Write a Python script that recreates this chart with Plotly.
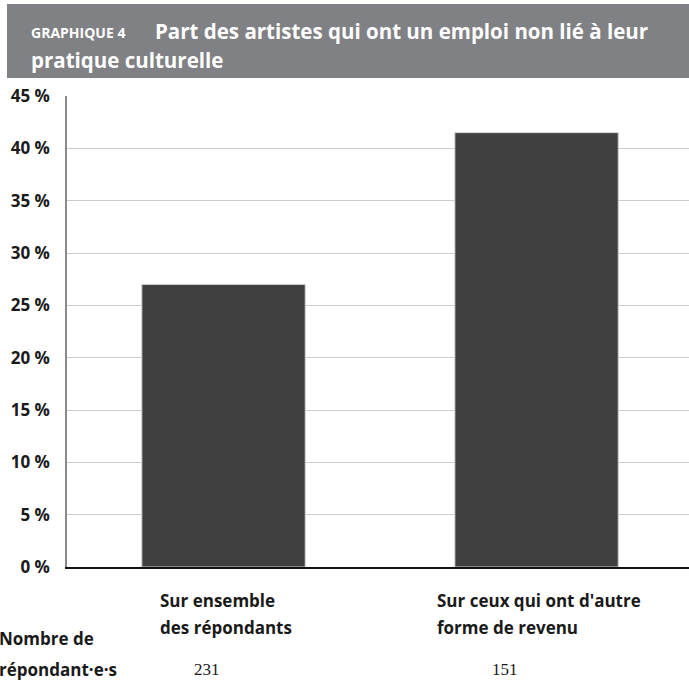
import plotly.graph_objects as go

# data
categories = [["Sur ensemble", "des répondants"], ["Sur ceux qui ont d'autre", "forme de revenu"]]
share_pct = [27.0, 41.5]
respondents = ["231", "151"]
y_ticks = [0, 5, 10, 15, 20, 25, 30, 35, 40, 45]

W, H = 689, 699
ML, MR, MT, MB = 67, 0, 96, 132
PW, PH = W - ML - MR, H - MT - MB
FONT = "Open Sans"
INK = "#1a1a1a"


def px_x(x):
    return (x - ML) / PW


def px_y(y):
    return (H - MB - y) / PH


fig = go.Figure(go.Bar(
    x=[0, 1],
    y=share_pct,
    width=0.522,
    marker=dict(color="#404040", line=dict(color="#d4d4d4", width=1)),
    hoverinfo="skip",
))

fig.update_layout(
    width=W,
    height=H,
    margin=dict(l=ML, r=MR, t=MT, b=MB),
    plot_bgcolor="white",
    paper_bgcolor="white",
    showlegend=False,
    font=dict(family=FONT, color=INK),
)

fig.update_xaxes(
    range=[-0.5, 1.487],
    showticklabels=False,
    showgrid=False,
    zeroline=False,
    showline=True,
    linecolor="#111111",
    linewidth=1.5,
    ticks="",
)

fig.update_yaxes(
    range=[0, 45],
    tickvals=y_ticks,
    ticktext=[f"{v} %" for v in y_ticks],
    tickfont=dict(family=FONT, size=17, color=INK, weight="bold"),
    ticklabelstandoff=12,
    showgrid=True,
    gridcolor="#cccccc",
    gridwidth=1,
    zeroline=False,
    showline=True,
    linecolor="#8a8a8a",
    linewidth=1.5,
)

# title banner
fig.add_shape(type="rect", xref="paper", yref="paper",
              x0=px_x(7), x1=px_x(W), y0=px_y(78), y1=px_y(4),
              fillcolor="#808184", line=dict(width=0), layer="below")

fig.add_annotation(xref="paper", yref="paper", x=px_x(29), y=px_y(32),
                   xanchor="left", yanchor="middle", showarrow=False,
                   text="<b>GRAPHIQUE 4</b>",
                   font=dict(family=FONT, size=14, color="white"))
fig.add_annotation(xref="paper", yref="paper", x=px_x(153), y=px_y(31),
                   xanchor="left", yanchor="middle", showarrow=False,
                   text="<b>Part des artistes qui ont un emploi non lié à leur</b>",
                   font=dict(family=FONT, size=20.5, color="white"))
fig.add_annotation(xref="paper", yref="paper", x=px_x(29), y=px_y(60),
                   xanchor="left", yanchor="middle", showarrow=False,
                   text="<b>pratique culturelle</b>",
                   font=dict(family=FONT, size=20.5, color="white"))

# category labels, two left-aligned lines each
label_left = [-66, -102]
for i, lines in enumerate(categories):
    for j, line in enumerate(lines):
        fig.add_annotation(xref="x", yref="paper", x=i, y=px_y(600 + 27 * j),
                           xanchor="left", yanchor="middle", xshift=label_left[i],
                           showarrow=False, text=f"<b>{line}</b>",
                           font=dict(family=FONT, size=17, color=INK))

# respondents row
for j, line in enumerate(["Nombre de", "répondant·e·s"]):
    fig.add_annotation(xref="paper", yref="paper", x=px_x(-3), y=px_y(638 + 31 * j),
                       xanchor="left", yanchor="middle",
                       showarrow=False, text=f"<b>{line}</b>",
                       font=dict(family=FONT, size=17, color=INK))
for i, n in enumerate(respondents):
    fig.add_annotation(xref="x", yref="paper", x=i, y=px_y(669),
                       xanchor="center", yanchor="middle", xshift=-17 - 15 * i,
                       showarrow=False, text=n,
                       font=dict(family="Liberation Serif", size=17, color=INK))

fig.write_html("out.html", config={"displayModeBar": False},
               post_script="document.body.style.margin='0';")
